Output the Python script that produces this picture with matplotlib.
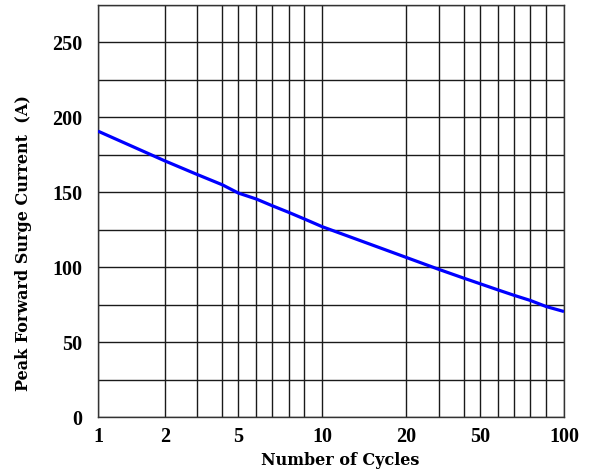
import matplotlib
matplotlib.use("Agg")
import matplotlib.pyplot as plt
import matplotlib.ticker as mticker
import numpy as np

# Surge current curve
cycles = [1, 2, 3, 4, 5, 6, 7, 8, 9, 10, 20, 30, 40, 50, 60, 70, 80, 90, 100]
current = [190.8, 171.0, 162.0, 155.0, 149.5, 145.5, 141.0, 136.6, 132.2, 127.0,
           106.5, 98.5, 92.7, 88.9, 84.9, 81.3, 77.8, 73.7, 70.4]

x_major = [1, 2, 5, 10, 20, 50, 100]
x_minor = [3, 4, 6, 7, 8, 9, 30, 40, 60, 70, 80, 90]
y_major = [0, 50, 100, 150, 200, 250]
y_minor = [25, 75, 125, 175, 225, 275]

# The printed chart's x grid is only roughly logarithmic: map the gridline values
# onto their measured spacing so the grid lands where it does in the original
grid_vals = np.array([1, 2, 3, 4, 5, 6, 7, 8, 9, 10, 20, 30, 40, 50, 60, 70, 80, 90, 100], float)
grid_pos = np.array([0, 66.7, 98.7, 124.3, 140.3, 158.3, 174.3, 190.7, 206.3, 224.3,
                     308.3, 341, 365.7, 382.3, 399.7, 415.7, 432.3, 448.3, 466], float)

def fwd(x):
    return np.interp(x, grid_vals, grid_pos)

def inv(p):
    return np.interp(p, grid_pos, grid_vals)

plt.rcParams['font.family'] = ['Liberation Serif', 'DejaVu Serif']

fig = plt.figure(figsize=(5.96, 4.73), dpi=100)
ax = fig.add_axes([98/596, 56/473, 466/596, 412/473])

ax.set_xscale('function', functions=(fwd, inv))
ax.set_xlim(1, 100)
ax.set_ylim(0, 275)

ax.plot(cycles, current, color='#0000ff', linewidth=2.3, solid_capstyle='butt', zorder=3)

ax.xaxis.set_major_locator(mticker.FixedLocator(x_major))
ax.xaxis.set_minor_locator(mticker.FixedLocator(x_minor))
ax.xaxis.set_major_formatter(mticker.FixedFormatter([str(v) for v in x_major]))
ax.xaxis.set_minor_formatter(mticker.NullFormatter())
ax.yaxis.set_major_locator(mticker.FixedLocator(y_major))
ax.yaxis.set_minor_locator(mticker.FixedLocator(y_minor))

ax.grid(True, which='both', color='#1a1a1a', linewidth=1.0)
ax.set_axisbelow(True)
ax.tick_params(which='both', length=0)
ax.tick_params(axis='x', pad=7, labelsize=14.5)
ax.tick_params(axis='y', pad=11, labelsize=14.5)
for lab in ax.get_xticklabels() + ax.get_yticklabels():
    lab.set_fontweight('bold')

for s in ax.spines.values():
    s.set_color('#333333')
    s.set_linewidth(1.0)

ax.set_xlabel("Number of Cycles", fontsize=11.5, fontweight='bold', family='DejaVu Serif')
ax.set_ylabel("Peak Forward Surge Current  (A)", fontsize=11.5, fontweight='bold',
              family='DejaVu Serif')
ax.xaxis.set_label_coords(0.519, -0.085)
ax.yaxis.set_label_coords(-0.142, 0.422)

fig.savefig("out.png", dpi=100)
